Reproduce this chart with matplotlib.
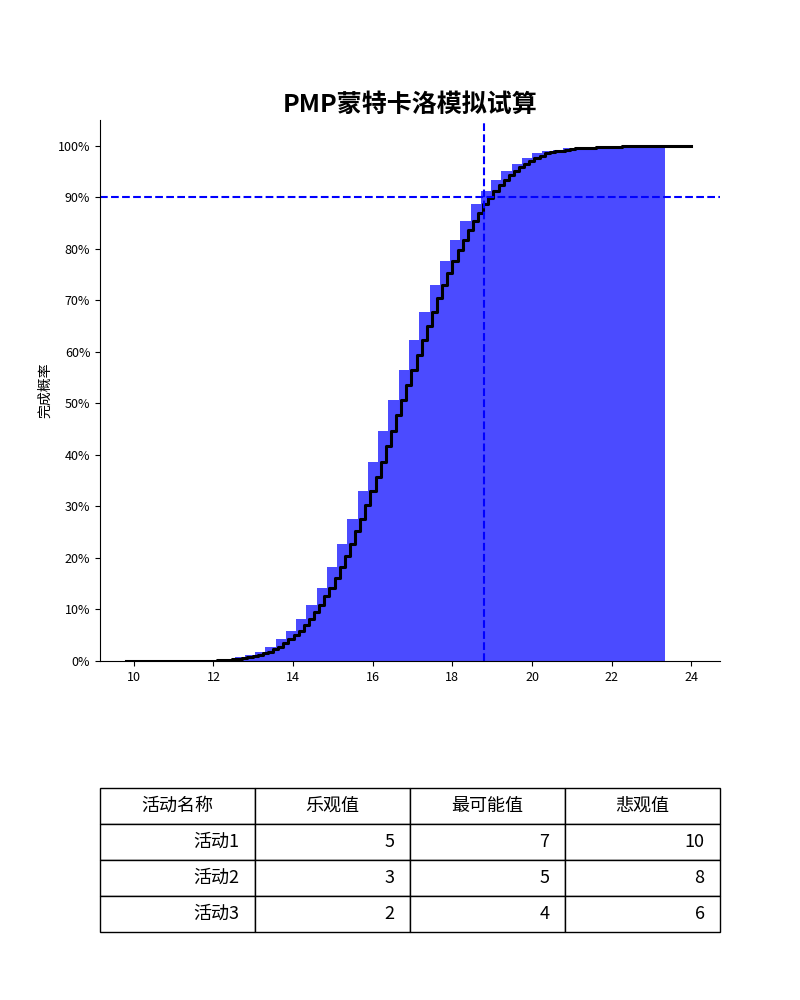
import matplotlib
matplotlib.use("Agg")
import matplotlib.pyplot as plt
import numpy as np
from matplotlib.ticker import PercentFormatter

plt.rcParams['font.family'] = ['Noto Sans CJK SC', 'DejaVu Sans']
plt.rcParams['axes.unicode_minus'] = False

# cumulative completion probability (%) per bin
bin_start = 9.7
bin_width = 0.2575
cdf = [0, 0, 0, 0.01, 0.01, 0.02, 0.03, 0.06, 0.12, 0.25, 0.4, 0.7, 1.2, 1.8, 2.8, 4.3,
       5.8, 8.2, 10.9, 14.2, 18.2, 22.7, 27.6, 32.9, 38.6, 44.7, 50.6, 56.5, 62.3, 67.8,
       73.0, 77.7, 81.8, 85.4, 88.6, 91.3, 93.4, 95.1, 96.5, 97.7, 98.5, 98.9, 99.2, 99.5,
       99.6, 99.7, 99.8, 99.85, 99.9, 99.95, 100, 100, 100]
p90_days = 18.8
p90_level = 90

activities = ['活动1', '活动2', '活动3']
optimistic = [5, 3, 2]
most_likely = [7, 5, 4]
pessimistic = [10, 8, 6]
col_labels = ['活动名称', '乐观值', '最可能值', '悲观值']

edges = bin_start + bin_width * np.arange(len(cdf) + 1)

fig = plt.figure(figsize=(8, 10), dpi=100)
ax = fig.add_axes([0.125, 0.339, 0.775, 0.541])

ax.bar(edges[:-1], cdf, width=bin_width, align='edge', color='#4B4BFF', linewidth=0)

# black step line: finer cumulative curve, lagging the bars by half a bin
cdf_arr = np.array(cdf, dtype=float)
prev = np.concatenate([[0.0], cdf_arr[:-1]])
line_x = np.ravel(np.column_stack([edges[:-1] + 0.06, edges[:-1] + 0.19]))
line_y = np.ravel(np.column_stack([prev, (prev + cdf_arr) / 2]))
line_x = np.append(line_x, [edges[-1] + 0.06, 24])
line_y = np.append(line_y, [100, 100])
line_x[0] = 9.8
ax.step(line_x, line_y, where='post', color='black', linewidth=2.2)

ax.axvline(p90_days, color='blue', linestyle='--', linewidth=1.5)
ax.axhline(p90_level, color='blue', linestyle='--', linewidth=1.5)

ax.set_xlim(9.15, 24.72)
ax.set_ylim(0, 105)
ax.set_xticks(range(10, 25, 2))
ax.set_yticks(range(0, 101, 10))
ax.yaxis.set_major_formatter(PercentFormatter(decimals=0))
ax.tick_params(labelsize=9)
ax.spines['top'].set_visible(False)
ax.spines['right'].set_visible(False)
ax.set_ylabel('完成概率', fontsize=10)
ax.set_title('PMP蒙特卡洛模拟试算', fontsize=18, fontweight='bold')

# parameter table
tax = fig.add_axes([0.125, 0.068, 0.775, 0.144])
tax.set_axis_off()
rows = [[a, o, m, p] for a, o, m, p in zip(activities, optimistic, most_likely, pessimistic)]
table = tax.table(cellText=rows, colLabels=col_labels, loc='center', bbox=[0, 0, 1, 1])
table.auto_set_font_size(False)
table.set_fontsize(13)
for (r, c), cell in table.get_celld().items():
    cell.set_linewidth(1)
    if r == 0:
        cell.get_text().set_horizontalalignment('center')
    else:
        cell.get_text().set_horizontalalignment('right')
        cell.PAD = 0.1

fig.savefig('out.png', dpi=100)
